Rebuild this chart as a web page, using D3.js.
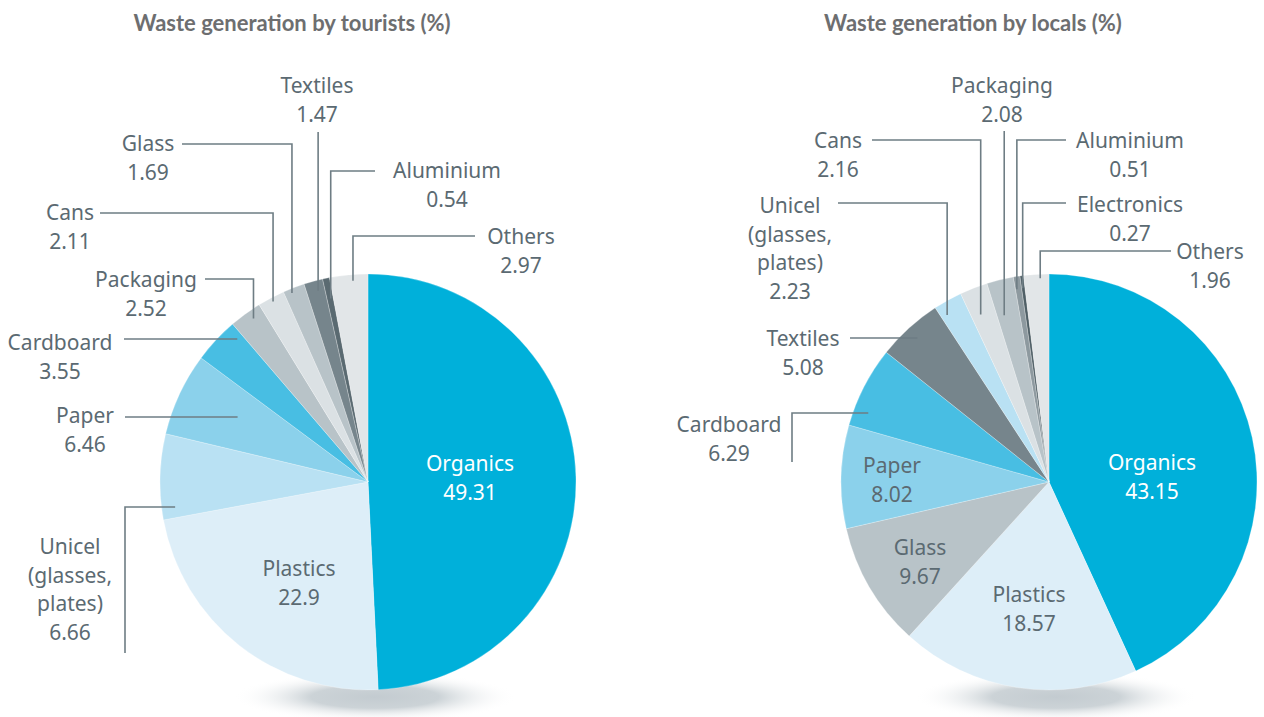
<!DOCTYPE html>
<html>
<head>
    <meta charset="utf-8">
    <title>Waste generation</title>
    <script src="https://d3js.org/d3.v7.min.js"></script>
    <style>
        body { margin: 0; background: #fff; }
        .title { font-family: Lato, "Noto Sans", sans-serif; font-weight: 700; font-size: 22px; fill: #6d6e70; }
        .lbl { font-family: "Noto Sans", sans-serif; font-size: 21px; fill: #5b6a72; }
        .lbl.in { fill: #fff; }
        .leader { fill: none; stroke: #6e7d84; stroke-width: 1.6; }
    </style>
</head>
<body>
<div id="chart"></div>
<script>
    // data
    let touristCategories = ["Organics", "Plastics", "Unicel (glasses, plates)", "Paper", "Cardboard",
        "Packaging", "Cans", "Glass", "Textiles", "Aluminium", "Others"];
    let touristValues = [49.31, 22.9, 6.66, 6.46, 3.55, 2.52, 2.11, 1.69, 1.47, 0.54, 2.97];

    let localCategories = ["Organics", "Plastics", "Glass", "Paper", "Cardboard", "Textiles",
        "Unicel (glasses, plates)", "Cans", "Packaging", "Aluminium", "Electronics", "Others"];
    let localValues = [43.15, 18.57, 9.67, 8.02, 6.29, 5.08, 2.23, 2.16, 2.08, 0.51, 0.27, 1.96];

    let titles = ["Waste generation by tourists (%)", "Waste generation by locals (%)"];

    // colours per category (the two pies share most of them)
    let colorTourist = {
        "Organics": "#00b0da", "Plastics": "#ddeef8", "Unicel (glasses, plates)": "#b9e1f3",
        "Paper": "#8bd1eb", "Cardboard": "#48bee3", "Packaging": "#b8c3c8", "Cans": "#dbe1e4",
        "Glass": "#b8c3c8", "Textiles": "#76858c", "Aluminium": "#5a6a71", "Others": "#e2e6e8"
    };
    let colorLocal = Object.assign({}, colorTourist, {
        "Glass": "#b8c3c8", "Textiles": "#76858c", "Aluminium": "#8d999f", "Electronics": "#4f5f66"
    });

    // label layout: text centre, leader (start point, type, and where it hits the slice)
    let touristLayout = {
        "Organics":  {x: 470, y: 463, inside: true},
        "Plastics":  {x: 299, y: 568, inside: true, dark: true},
        "Unicel (glasses, plates)": {x: 70, y: 546, wrap: true, leader: {type: "u", lx: 125, ly: 653, f: 0.13, k: 0.935}},
        "Paper":     {x: 85,  y: 415, leader: {type: "hh", lx: 125, ly: 417, f: 0.56, k: 0.70}},
        "Cardboard": {x: 60,  y: 342, leader: {type: "hh", lx: 124, ly: 339, f: 0.85, k: 0.93}},
        "Packaging": {x: 146, y: 279, leader: {type: "h", lx: 205, ly: 279, f: 0.62, k: 0.96}},
        "Cans":      {x: 70,  y: 212, leader: {type: "h", lx: 100, ly: 213, f: 0.5,  k: 0.98}},
        "Glass":     {x: 148, y: 143, leader: {type: "h", lx: 182, ly: 144, f: 0.34, k: 0.98}},
        "Textiles":  {x: 317, y: 85,  leader: {type: "v", ly: 132, f: 0.62, k: 0.95}},
        "Aluminium": {x: 447, y: 170, leader: {type: "h", lx: 375, ly: 171, f: 0.58, k: 0.90}},
        "Others":    {x: 521, y: 236, leader: {type: "h", lx: 475, ly: 236, f: 0.6,  k: 0.97}}
    };
    let localLayout = {
        "Organics":  {x: 1152, y: 462, inside: true},
        "Plastics":  {x: 1029, y: 594, inside: true, dark: true},
        "Glass":     {x: 920,  y: 547, inside: true, dark: true},
        "Paper":     {x: 892,  y: 465, inside: true, dark: true},
        "Cardboard": {x: 729,  y: 424, leader: {type: "u", lx: 792, ly: 462, f: 0.22, k: 0.93}},
        "Textiles":  {x: 803,  y: 338, leader: {type: "hh", lx: 850, ly: 338, f: 0.5, k: 0.94}},
        "Unicel (glasses, plates)": {x: 790, y: 205, wrap: true, leader: {type: "h", lx: 838, ly: 203, f: 0.22, k: 0.94}},
        "Cans":      {x: 838,  y: 140, leader: {type: "h", lx: 872, ly: 140, f: 0.38, k: 0.87}},
        "Packaging": {x: 1002, y: 85,  leader: {type: "v", ly: 131, f: 0.31, k: 0.83}},
        "Aluminium": {x: 1130, y: 140, leader: {type: "h", lx: 1066, ly: 140, f: 0.22, k: 0.94}},
        "Electronics": {x: 1130, y: 204, leader: {type: "h", lx: 1066, ly: 203, f: 0.3, k: 0.94}},
        "Others":    {x: 1210, y: 251, leader: {type: "h", lx: 1171, ly: 251, f: 0.65, k: 0.98}}
    };

    let W = 1264, H = 717, R = 208, lineH = 28.5;

    let svg = d3.select("#chart").append("svg")
        .attr("width", W)
        .attr("height", H);

    let defs = svg.append("defs");
    let grad = defs.append("radialGradient").attr("id", "shadow");
    grad.append("stop").attr("offset", "0%").attr("stop-color", "#c3cbd0");
    grad.append("stop").attr("offset", "45%").attr("stop-color", "#ccd3d7");
    grad.append("stop").attr("offset", "100%").attr("stop-color", "#ffffff").attr("stop-opacity", 0);

    drawPie(svg, 368, 482, titles[0], 292, touristCategories, touristValues, colorTourist, touristLayout);
    drawPie(svg, 1049, 482, titles[1], 973, localCategories, localValues, colorLocal, localLayout);

    function drawPie(svg, cx, cy, title, titleX, cats, vals, colors, layout) {
        let data = cats.map((c, i) => ({name: c, value: vals[i]}));

        svg.append("text")
            .attr("class", "title")
            .attr("x", titleX)
            .attr("y", 22)
            .attr("text-anchor", "middle")
            .attr("dominant-baseline", "central")
            .text(title);

        // soft shadow under the pie
        svg.append("ellipse")
            .attr("cx", cx + 7)
            .attr("cy", cy + 215)
            .attr("rx", 142)
            .attr("ry", 25)
            .attr("fill", "url(#shadow)");

        let pie = d3.pie().sort(null).value(d => d.value);
        let arc = d3.arc().innerRadius(0).outerRadius(R);
        let arcs = pie(data);

        let g = svg.append("g").attr("transform", `translate(${cx},${cy})`);
        g.selectAll("path")
            .data(arcs)
            .join("path")
            .attr("d", arc)
            .attr("fill", d => colors[d.data.name])
            .attr("stroke", "#ffffff")
            .attr("stroke-opacity", 0.5)
            .attr("stroke-width", 0.5);

        // leader lines
        arcs.forEach(a => {
            let lay = layout[a.data.name];
            if (!lay || !lay.leader) return;
            let L = lay.leader;
            let ang = a.startAngle + L.f * (a.endAngle - a.startAngle);
            let ex = cx + L.k * R * Math.sin(ang);
            let ey = cy - L.k * R * Math.cos(ang);
            let pts;
            if (L.type == "h") pts = [[L.lx, L.ly], [ex, L.ly], [ex, ey]];
            else if (L.type == "hh") pts = [[L.lx, L.ly], [ex, L.ly]];
            else if (L.type == "v") pts = [[ex, L.ly], [ex, ey]];
            else pts = [[L.lx, L.ly], [L.lx, ey], [ex, ey]];
            svg.append("path")
                .attr("class", "leader")
                .attr("d", d3.line()(pts));
        });

        // labels
        arcs.forEach(a => {
            let lay = layout[a.data.name];
            let lines = lay.wrap ? a.data.name.split(" ") : [a.data.name];
            lines = lines.concat([String(a.data.value)]);
            let t = svg.append("text")
                .attr("class", lay.inside && !lay.dark ? "lbl in" : "lbl")
                .attr("text-anchor", "middle");
            lines.forEach((s, i) => {
                t.append("tspan")
                    .attr("x", lay.x)
                    .attr("y", lay.y + i * lineH)
                    .attr("dominant-baseline", "central")
                    .text(s);
            });
        });
    }
</script>
</body>
</html>
